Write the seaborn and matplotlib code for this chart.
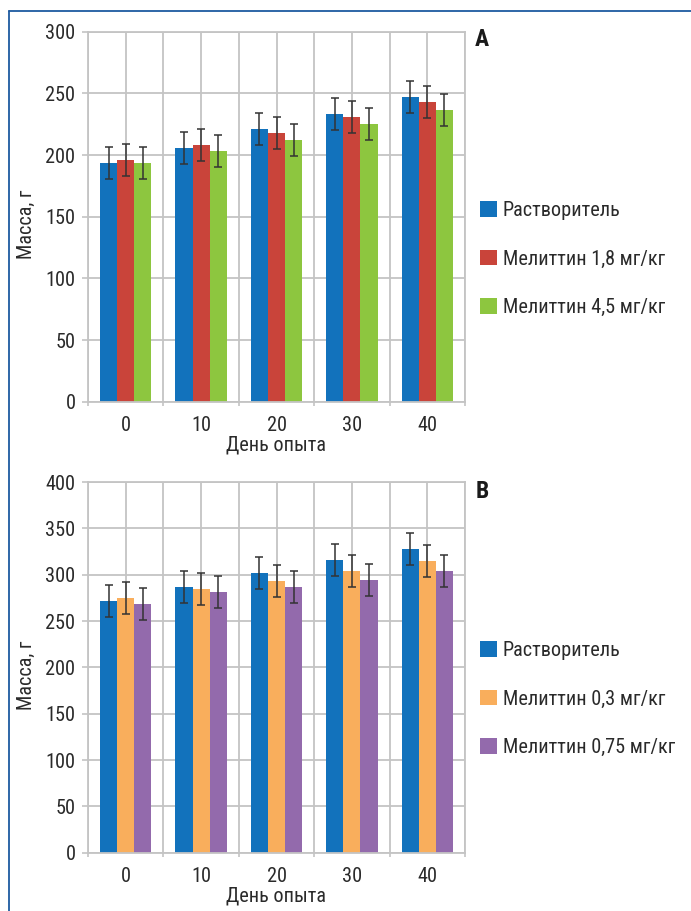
import numpy as np
import pandas as pd
import matplotlib
matplotlib.use("Agg")
import matplotlib.pyplot as plt
from matplotlib.lines import Line2D
from matplotlib.container import BarContainer
from matplotlib import font_manager as fm
import seaborn as sns

# ---- data ----
days = ["0", "10", "20", "30", "40"]

groups_a = ["Растворитель", "Мелиттин 1,8 мг/кг", "Мелиттин 4,5 мг/кг"]
solvent_a = [193.5, 205.8, 221.2, 233.3, 247.1]
mel18_a = [196.0, 208.2, 217.9, 230.9, 243.1]
mel45_a = [193.6, 203.3, 212.3, 225.2, 236.6]
err_a = [13.0, 13.0, 13.0, 13.0, 13.0]

groups_b = ["Растворитель", "Мелиттин 0,3 мг/кг", "Мелиттин 0,75 мг/кг"]
solvent_b = [271.6, 286.7, 301.8, 315.9, 327.7]
mel03_b = [274.8, 284.6, 293.2, 304.0, 314.8]
mel075_b = [268.4, 281.3, 286.7, 294.3, 304.0]
err_b = [17.5, 17.5, 17.5, 17.5, 17.5]

colors_a = ["#1272BC", "#C9443A", "#8DC63F"]
colors_b = ["#1272BC", "#F9AE5C", "#936AAC"]

ylabel = "Масса, г"
xlabel = "День опыта"

sns.set_theme(style="white")
names = {f.name for f in fm.fontManager.ttflist}
fams = [n for n in ["Roboto Condensed", "Liberation Sans Narrow", "Open Sans Condensed"] if n in names]
plt.rcParams["font.family"] = fams + ["DejaVu Sans"]
plt.rcParams["font.stretch"] = "condensed"
TXT = "#2a2a2a"
GRID = "#c4c4c4"
FS = 14.6

W, H = 691, 911
fig = plt.figure(figsize=(W / 100, H / 100), dpi=100)


def panel(rect_px, groups, series, err, colors, ymax, letter, letter_y, leg_center_y):
    left, top, right, bottom = rect_px
    ax = fig.add_axes([left / W, 1 - bottom / H, (right - left) / W, (bottom - top) / H])
    rows = []
    for g, vals in zip(groups, series):
        for d, v in zip(days, vals):
            rows.append({"day": d, "group": g, "mass": v})
    df = pd.DataFrame(rows)
    sns.barplot(data=df, x="day", y="mass", hue="group", order=days, hue_order=groups,
                palette=colors, saturation=1, width=0.68, errorbar=None,
                linewidth=0, ax=ax, zorder=2)
    bars = [c for c in ax.containers if isinstance(c, BarContainer)]
    for cont in bars:
        xs = [p.get_x() + p.get_width() / 2 for p in cont.patches]
        ys = [p.get_height() for p in cont.patches]
        ax.errorbar(xs, ys, yerr=err, fmt="none", ecolor="#333333", elinewidth=1.1,
                    capsize=2.6, capthick=1.1, zorder=3)
    ax.set_xlim(-0.5, len(days) - 0.5)
    ax.set_ylim(0, ymax)
    ax.set_yticks(np.arange(0, ymax + 1, 50))
    ax.set_xticks(np.arange(-0.5, len(days), 1.0), minor=True)
    ax.set_axisbelow(True)
    ax.grid(True, which="both", axis="x", color=GRID, linewidth=1.3)
    ax.grid(True, which="major", axis="y", color=GRID, linewidth=1.3)
    for s in ax.spines.values():
        s.set_visible(True)
        s.set_color(GRID)
        s.set_linewidth(1.3)
    ax.tick_params(axis="y", which="major", left=True, length=4, width=1.2, color=GRID,
                   pad=5, labelsize=FS, labelcolor=TXT)
    ax.tick_params(axis="x", which="major", bottom=False, length=0, pad=10,
                   labelsize=FS, labelcolor=TXT)
    ax.tick_params(axis="x", which="minor", bottom=True, length=3, width=1.2, color=GRID)
    ax.set_xlabel(xlabel, fontsize=FS, color=TXT)
    ax.set_ylabel(ylabel, fontsize=FS, color=TXT, va="center")
    hpx = bottom - top
    ax.xaxis.set_label_coords(0.5, -(436 - 402) / hpx)
    ax.yaxis.set_label_coords(-(88 - 26) / (right - left), 0.48)
    sns.move_legend(ax, "center left", bbox_to_anchor=(480 / W, 1 - leg_center_y / H),
                    bbox_transform=fig.transFigure, frameon=False, title=None,
                    fontsize=FS, labelspacing=1.45, handlelength=0.82, handleheight=0.82,
                    handletextpad=0.3, borderpad=0, borderaxespad=0, labelcolor=TXT)
    fig.text(482 / W, 1 - letter_y / H, letter, ha="center", va="center",
             fontsize=17, fontweight="bold", color="#1a1a1a")
    return ax


panel((88, 31.7, 465, 401.7), groups_a, [solvent_a, mel18_a, mel45_a], err_a, colors_a,
      300, "A", 40, 259)
panel((88, 482, 465, 852.7), groups_b, [solvent_b, mel03_b, mel075_b], err_b, colors_b,
      400, "B", 491, 699)

# frame lines
frame_c = "#1E5AA0"
fig.add_artist(Line2D([8.5 / W, 1], [1 - 11 / H, 1 - 11 / H], transform=fig.transFigure,
                      color=frame_c, linewidth=1.3))
fig.add_artist(Line2D([8.5 / W, 8.5 / W], [0, 1 - 11 / H], transform=fig.transFigure,
                      color=frame_c, linewidth=1.3))

fig.savefig("out.png", dpi=100)
